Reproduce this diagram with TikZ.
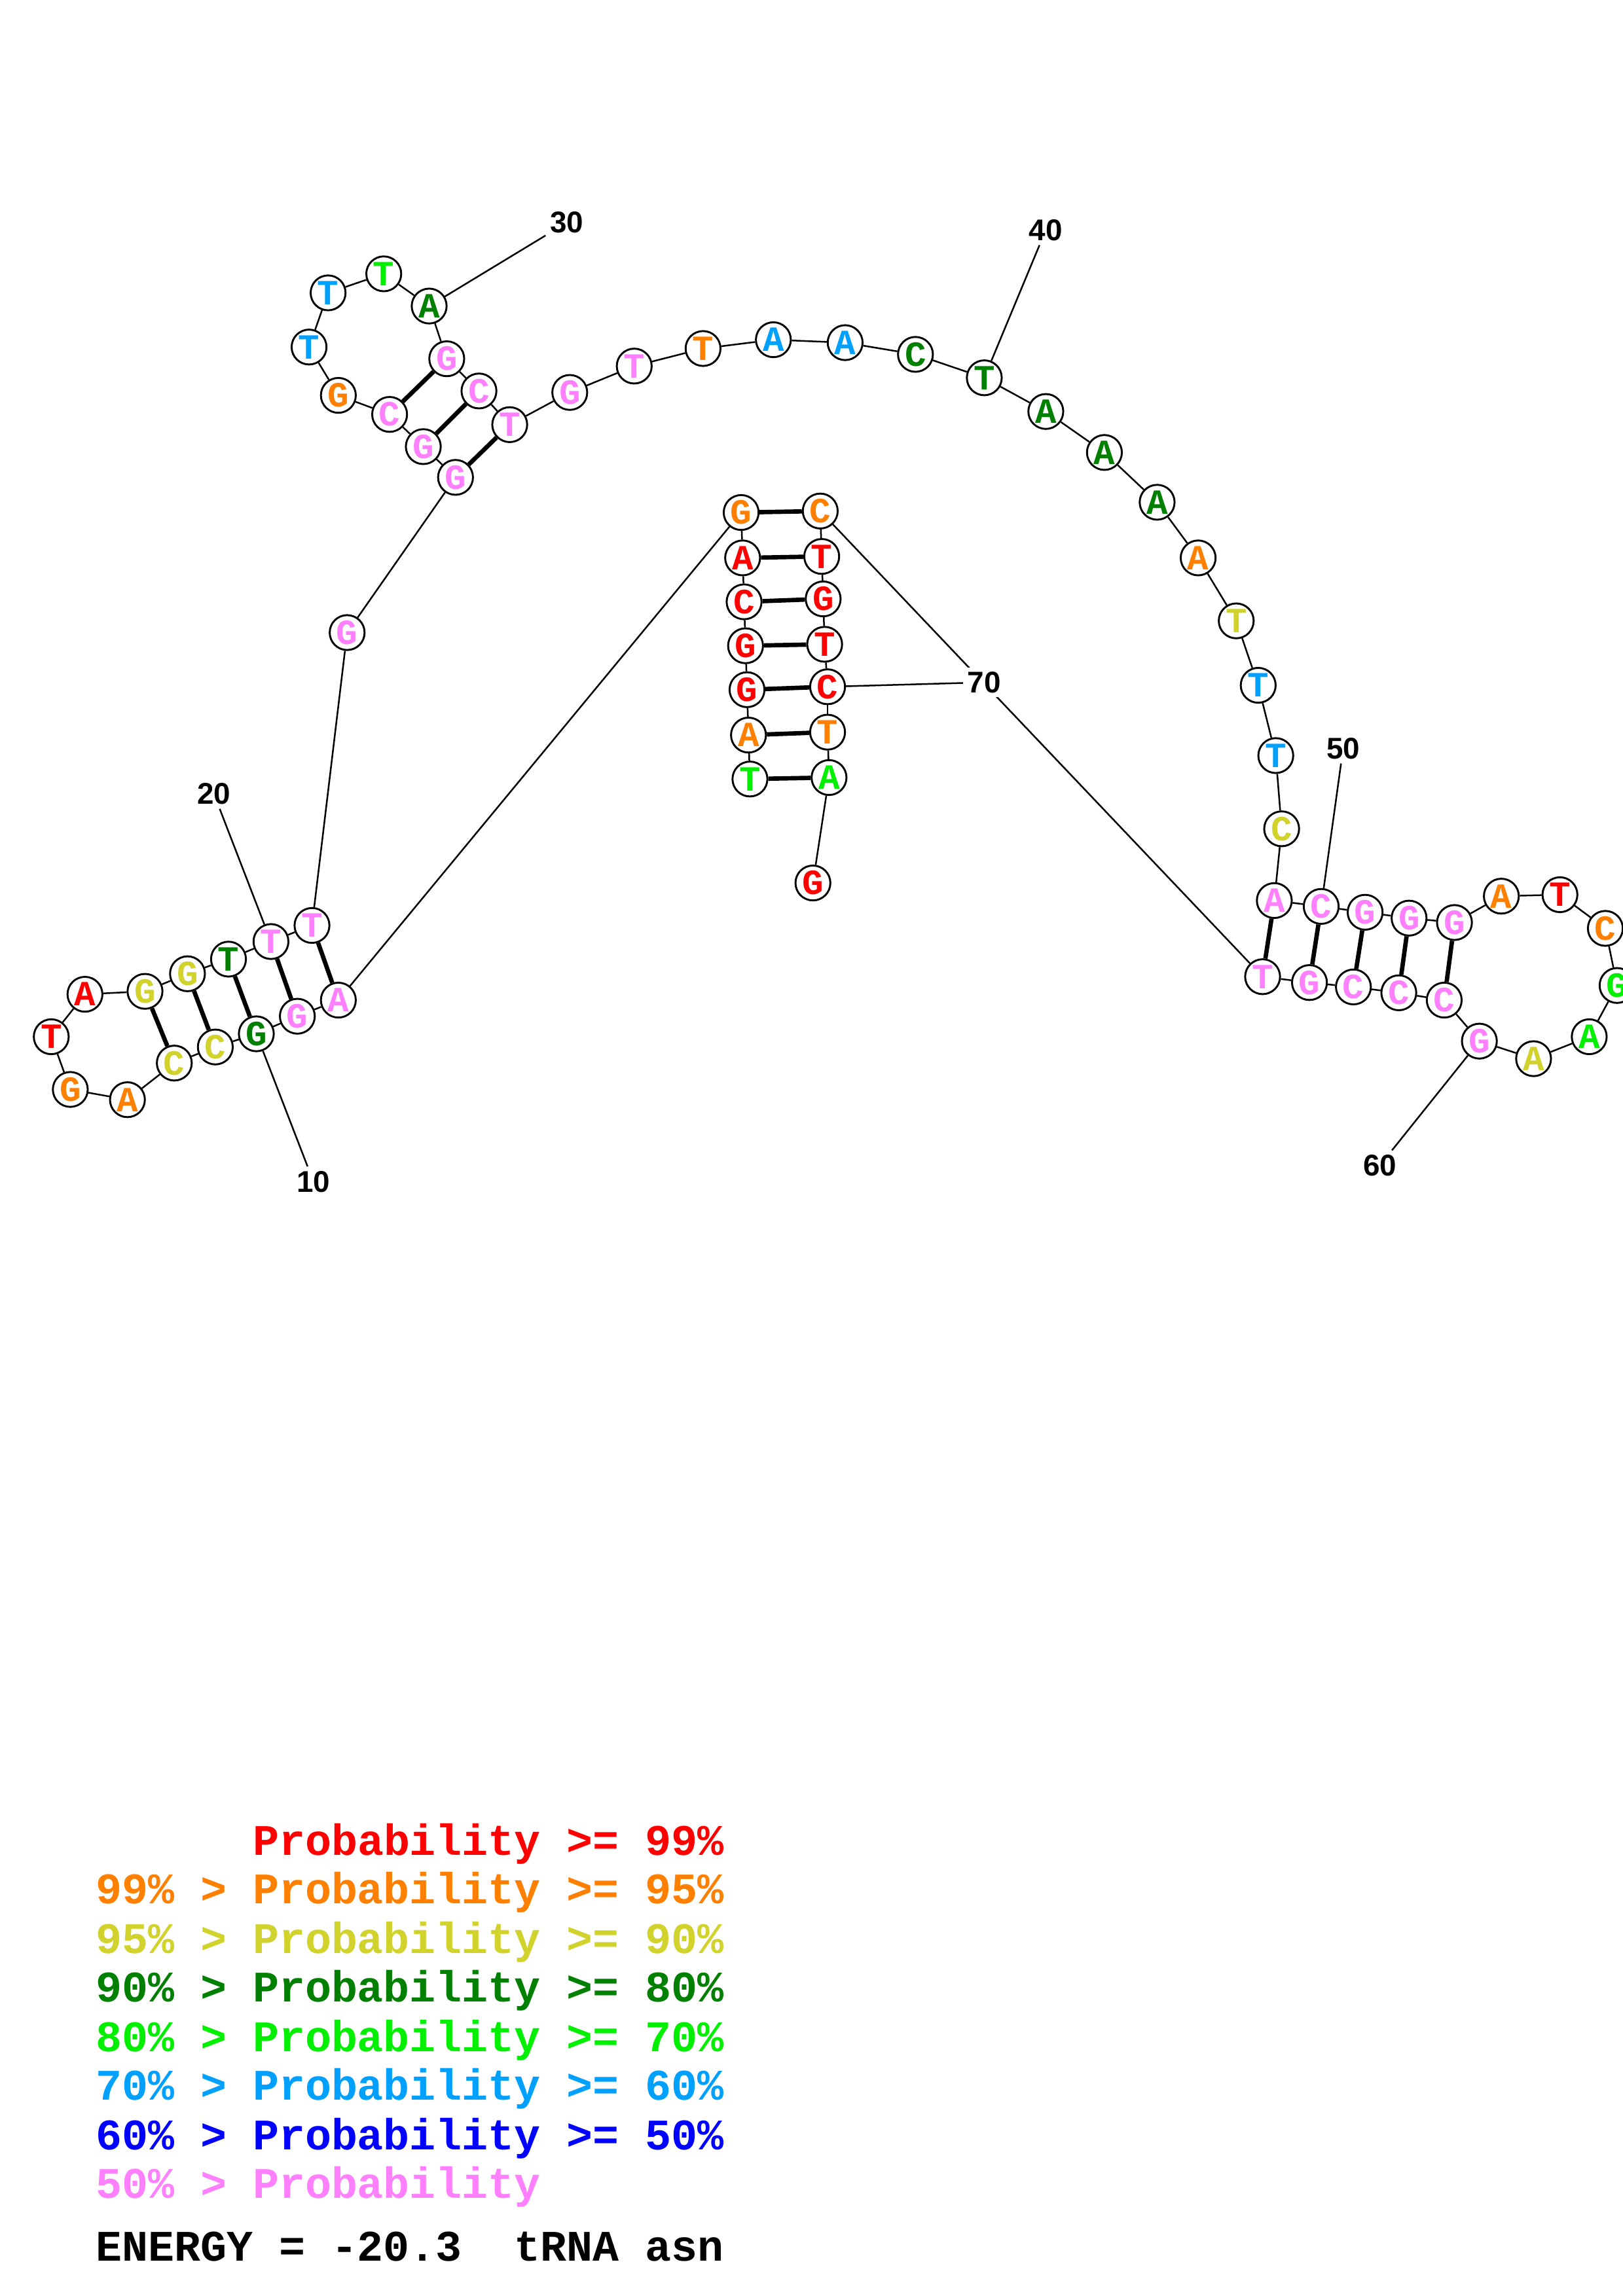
\documentclass[tikz,border=0pt]{standalone}
\usepackage{fontspec}
\newfontfamily\monof{Liberation Mono}
\newfontfamily\numf{Liberation Sans}
\definecolor{cR}{RGB}{255,0,0}
\definecolor{cO}{RGB}{255,128,0}
\definecolor{cY}{RGB}{210,210,45}
\definecolor{cDG}{RGB}{0,128,0}
\definecolor{cLG}{RGB}{0,240,0}
\definecolor{cSB}{RGB}{0,160,255}
\definecolor{cB}{RGB}{0,0,255}
\definecolor{cP}{RGB}{255,128,255}
\pgfdeclarelayer{bg}
\pgfsetlayers{bg,main}
\tikzset{
  nt/.style={circle, draw, fill=white, line width=0.7pt, minimum size=12.8pt, inner sep=0pt,
    font=\monof\bfseries\fontsize{13}{14}\selectfont},
  bb/.style={line width=0.6pt},
  bp/.style={line width=1.6pt},
  numlab/.style={font=\numf\bfseries\fontsize{11}{12}\selectfont, fill=white, inner sep=1.5pt},
  leg/.style={anchor=base west, inner sep=0pt, font=\monof\bfseries\fontsize{16}{18}\selectfont}
}
\begin{document}
\begin{tikzpicture}[x=0.5373pt, y=-0.5373pt]
\useasboundingbox (0,0) rectangle (1108,1568);
\foreach \i/\x/\y/\c/\l in {
1/512/532/cLG/T, 2/511/502/cO/A, 3/510/471/cR/G, 4/509/441/cR/G, 5/508/411/cR/C,
6/507/381/cR/A, 7/506/350/cO/G, 8/231/683/cP/A, 9/203/694/cP/G, 10/175/706/cDG/G,
11/147/715/cY/C, 12/119/726/cY/C, 13/87/751/cO/A, 14/48/744/cO/G, 15/35/708/cR/T,
16/58/679/cR/A, 17/99/677/cY/G, 18/128/665/cY/G, 19/156/655/cDG/T, 20/185/643/cP/T,
21/213/632/cP/T, 22/237/432/cP/G, 23/311/326/cP/G, 24/289/305/cP/G, 25/266/283/cP/C,
26/231/270/cO/G, 27/211/237/cSB/T, 28/224/200/cSB/T, 29/262/187/cLG/T, 30/293/209/cDG/A,
31/305/245/cP/G, 32/327/267/cP/C, 33/348/290/cP/T, 34/389/268/cP/G, 35/433/250/cP/T,
36/480/238/cO/T, 37/528/232/cSB/A, 38/577/234/cSB/A, 39/625/242/cDG/C, 40/672/258/cDG/T,
41/714/281/cDG/A, 42/754/309/cDG/A, 43/790/343/cDG/A, 44/818/381/cO/A, 45/844/424/cY/T,
46/859/468/cSB/T, 47/871/516/cSB/T, 48/875/566/cY/C, 49/870/615/cP/A, 50/902/619/cP/C,
51/932/623/cP/G, 52/962/627/cP/G, 53/993/630/cP/G, 54/1025/612/cO/A, 55/1065/611/cR/T,
56/1096/634/cO/C, 57/1104/673/cLG/G, 58/1085/708/cLG/A, 59/1047/723/cY/A, 60/1010/711/cP/G,
61/986/683/cP/C, 62/955/678/cP/C, 63/924/674/cP/C, 64/894/671/cP/G, 65/862/667/cP/T,
66/560/349/cO/C, 67/561/380/cR/T, 68/562/409/cR/G, 69/563/440/cR/T, 70/565/469/cR/C,
71/565/500/cO/T, 72/566/531/cLG/A, 73/555/603/cR/G}
  \node[nt, text=\c] (n\i) at (\x,\y) {\l};
% number labels
\node[numlab] (L10) at (214,807) {10};
\node[numlab] (L20) at (146,542) {20};
\node[numlab] (L30) at (387,152) {30};
\node[numlab] (L40) at (714,157) {40};
\node[numlab] (L50) at (917,511) {50};
\node[numlab] (L60) at (942,796) {60};
\node[numlab] (L70) at (672,466) {70};
\begin{pgfonlayer}{bg}
\fill[white] (0,0) rectangle (1108,1568);
\foreach \i in {1,...,72}{
  \pgfmathtruncatemacro{\j}{\i+1}
  \draw[bb] (n\i) -- (n\j);
}
\foreach \a/\b in {1/72,2/71,3/70,4/69,5/68,6/67,7/66,8/21,9/20,10/19,11/18,12/17,
  23/33,24/32,25/31,49/65,50/64,51/63,52/62,53/61}
  \draw[bp] (n\a) -- (n\b);
\foreach \k in {10,20,30,40,50,60,70}
  \draw[bb] (n\k) -- (L\k);
\end{pgfonlayer}
% legend
\node[leg, text=cR]  (g1) at (65,1267) {~~~~~~Probability~>=~99\%};
\node[leg, text=cO]  (g2) at (65,1300) {99\%~>~Probability~>=~95\%};
\node[leg, text=cY]  (g3) at (65,1334) {95\%~>~Probability~>=~90\%};
\node[leg, text=cDG] (g4) at (65,1367) {90\%~>~Probability~>=~80\%};
\node[leg, text=cLG] (g5) at (65,1401) {80\%~>~Probability~>=~70\%};
\node[leg, text=cSB] (g6) at (65,1434) {70\%~>~Probability~>=~60\%};
\node[leg, text=cB]  (g7) at (65,1468) {60\%~>~Probability~>=~50\%};
\node[leg, text=cP]  (g8) at (65,1501) {50\%~>~Probability};
\node[leg, text=black] (g9) at (65,1544) {ENERGY~=~-20.3~~tRNA~asn};
\end{tikzpicture}
\end{document}
